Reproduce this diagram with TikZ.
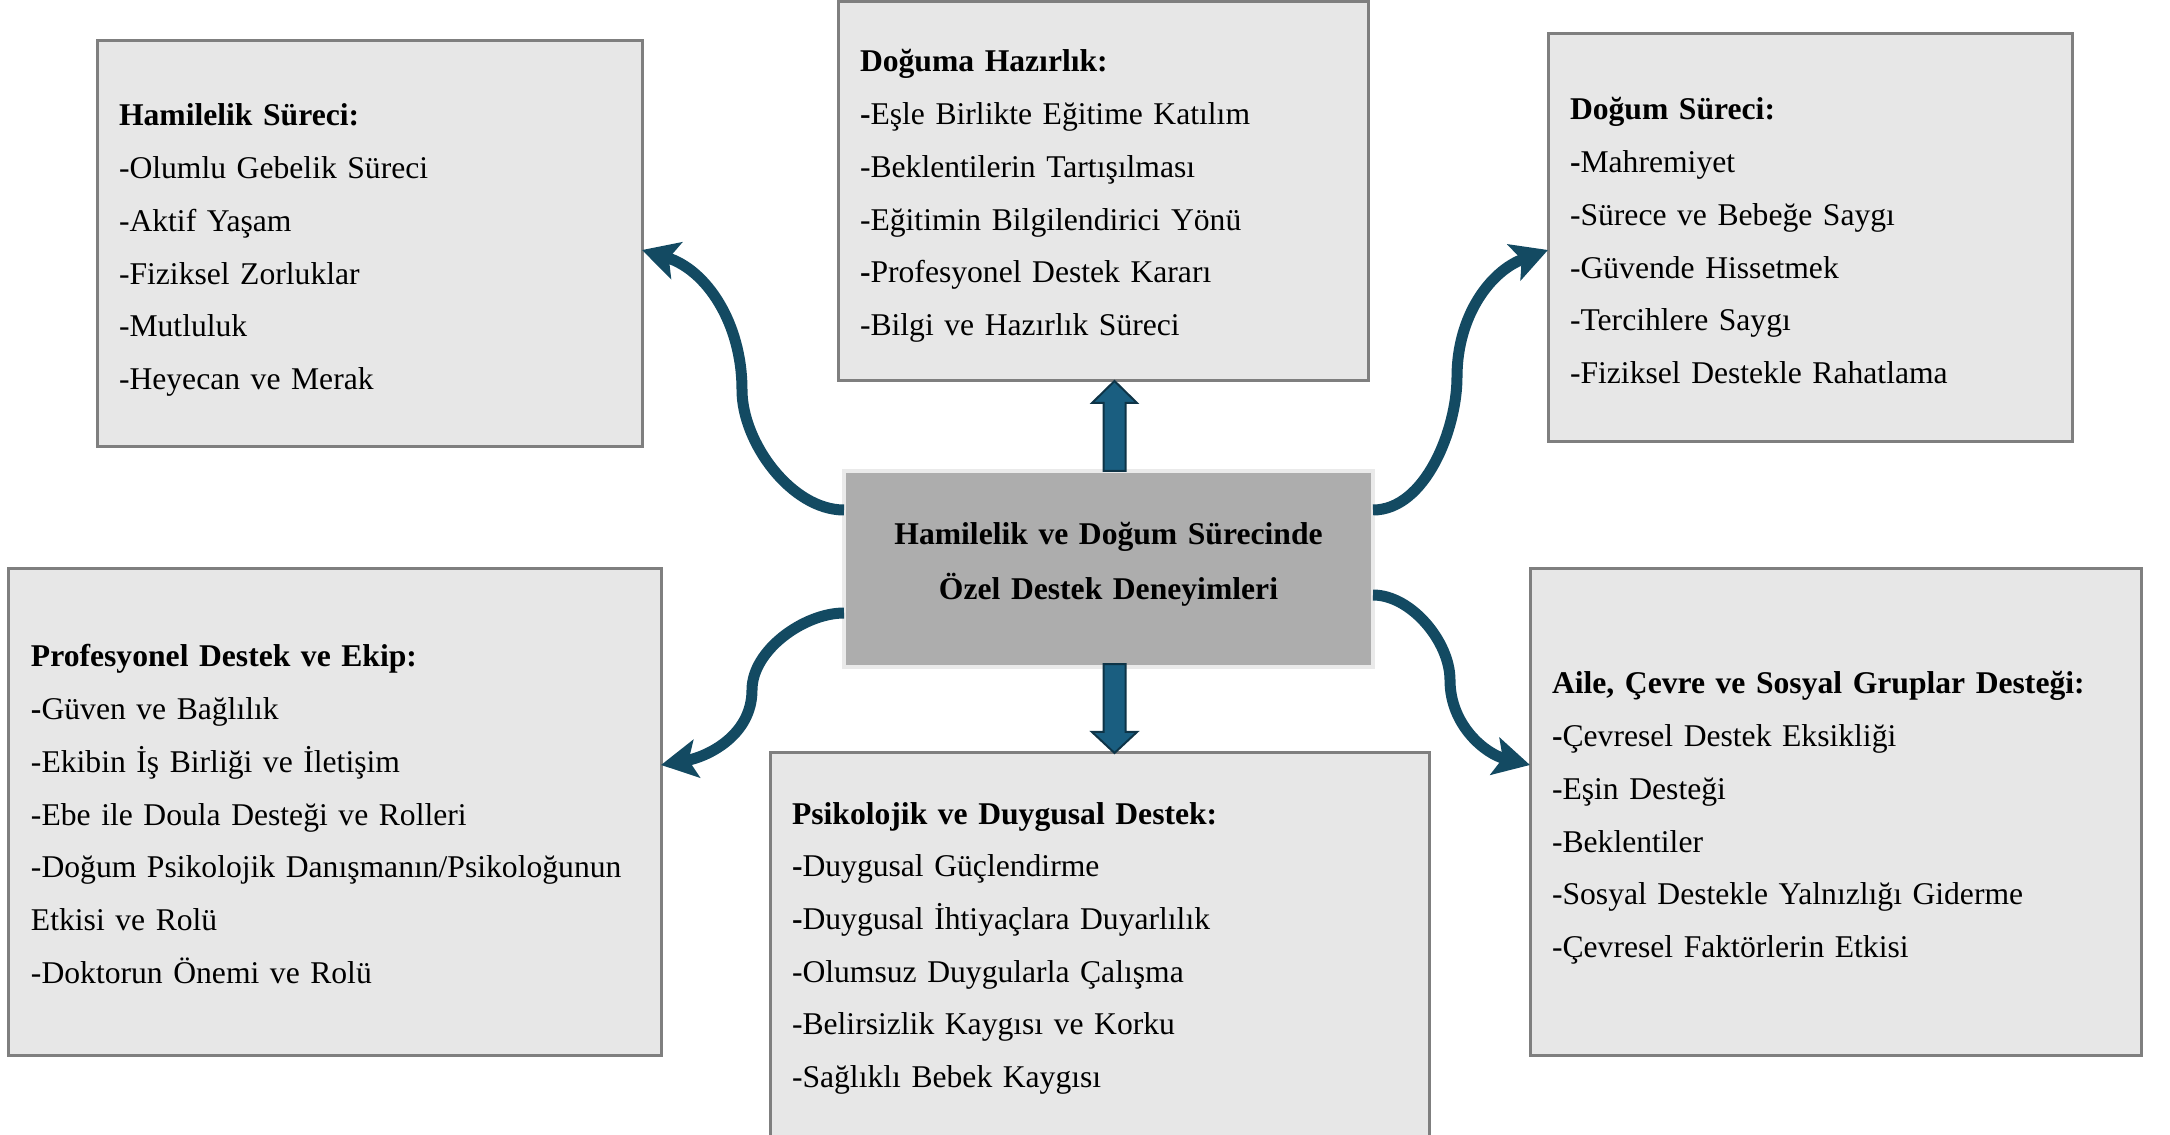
\documentclass[tikz,border=0pt]{standalone}
\usepackage{fontspec}
\setmainfont{Liberation Serif}
\usetikzlibrary{arrows.meta}

\definecolor{kutudolgu}{HTML}{E7E7E7}
\definecolor{kutucizgi}{HTML}{7F7F7F}
\definecolor{ortadolgu}{HTML}{ADADAD}
\definecolor{ortacizgi}{HTML}{EAEAEA}
\definecolor{okrenk}{HTML}{134A62}
\definecolor{blokdolgu}{HTML}{1A5E80}
\definecolor{blokcizgi}{HTML}{0E3447}

\tikzset{
	kutu/.style={draw=kutucizgi, fill=kutudolgu, line width=0.03cm, anchor=north west, align=left, inner xsep=0.22cm, inner ysep=0pt, outer sep=0pt, font=\fontsize{9}{15}\selectfont},
	ortakutu/.style={kutu, draw=ortacizgi, fill=ortadolgu, line width=0.04cm, align=center, font=\fontsize{9}{15.5}\selectfont\bfseries},
	egriok/.style={draw=okrenk, line width=0.11cm, -{Stealth[length=0.36cm,width=0.38cm,inset=0.08cm]}},
	blokok/.style={draw=blokcizgi, fill=blokdolgu, line width=0.02cm, line join=miter},
}

\begin{document}
\begin{tikzpicture}[]
	
	\useasboundingbox (0,0) rectangle (21.70,-11.35);
	
	% boxes
	\node[kutu, text width=5.01cm, text height=0.85cm, text depth=3.21cm] (hamilelik) at (0.97,-0.41) {\textbf{Hamilelik Süreci:}\\-Olumlu Gebelik Süreci\\-Aktif Yaşam\\-Fiziksel Zorluklar\\-Mutluluk\\-Heyecan ve Merak};
	\node[kutu, text width=4.86cm, text height=0.70cm, text depth=3.09cm] (hazirlik) at (8.38,-0.02) {\textbf{Doğuma Hazırlık:}\\\textbf{-}Eşle Birlikte Eğitime Katılım\\-Beklentilerin Tartışılması\\-Eğitimin Bilgilendirici Yönü\\\textbf{-}Profesyonel Destek Kararı\\-Bilgi ve Hazırlık Süreci};
	\node[kutu, text width=4.80cm, text height=0.86cm, text depth=3.22cm] (dogum) at (15.48,-0.34) {\textbf{Doğum Süreci:}\\\textbf{-}Mahremiyet\\-Sürece ve Bebeğe Saygı\\-Güvende Hissetmek\\-Tercihlere Saygı\\-Fiziksel Destekle Rahatlama};
	\node[kutu, text width=6.08cm, text height=0.98cm, text depth=3.88cm] (profesyonel) at (0.09,-5.69) {\textbf{Profesyonel Destek ve Ekip:}\\\textbf{-}Güven ve Bağlılık\\-Ekibin İş Birliği ve İletişim\\-Ebe ile Doula Desteği ve Rolleri\\-Doğum Psikolojik Danışmanın/Psikoloğunun\\Etkisi ve Rolü\\-Doktorun Önemi ve Rolü};
	\node[kutu, text width=6.15cm, text height=0.71cm, text depth=3.41cm] (psikolojik) at (7.70,-7.53) {\textbf{Psikolojik ve Duygusal Destek:}\\\textbf{-}Duygusal Güçlendirme\\\textbf{-}Duygusal İhtiyaçlara Duyarlılık\\-Olumsuz Duygularla Çalışma\\-Belirsizlik Kaygısı ve Korku\\-Sağlıklı Bebek Kaygısı};
	\node[kutu, text width=5.67cm, text height=1.25cm, text depth=3.61cm] (aile) at (15.30,-5.69) {\textbf{Aile, Çevre ve Sosyal Gruplar Desteği:}\\\textbf{-}Çevresel Destek Eksikliği\\-Eşin Desteği\\-Beklentiler\\-Sosyal Destekle Yalnızlığı Giderme\\-Çevresel Faktörlerin Etkisi};
	
	\node[ortakutu, text width=4.85cm, text height=0.74cm, text depth=1.22cm] (merkez) at (8.44,-4.71) {Hamilelik ve Doğum Sürecinde\\Özel Destek Deneyimleri};
	
	% curved arrows
	\coordinate (k1) at (7.42,-3.90);
	\coordinate (k2) at (7.52,-6.90);
	\coordinate (k3) at (14.57,-3.77);
	\coordinate (k4) at (14.50,-6.80);
	\draw[egriok] ([yshift=0.59cm]merkez.west) to[out=180,in=-90,looseness=0.85] (k1) to[out=90,in=-17] ([yshift=-0.06cm]hamilelik.east);
	\draw[egriok] ([yshift=-0.44cm]merkez.west) to[out=180,in=90,looseness=0.85] (k2) to[out=-90,in=10] ([yshift=0.47cm]profesyonel.east);
	\draw[egriok] ([yshift=0.59cm]merkez.east) to[out=0,in=-90,looseness=0.85] (k3) to[out=90,in=200] ([yshift=-0.12cm]dogum.west);
	\draw[egriok] ([yshift=-0.26cm]merkez.east) to[out=0,in=90,looseness=0.85] (k4) to[out=-90,in=166] ([yshift=0.47cm]aile.west);
	
	% block arrows
	\coordinate (yukari) at ([xshift=0.06cm]merkez.north);
	\coordinate (yukariuc) at (yukari |- hazirlik.south);
	\draw[blokok] ([xshift=-0.11cm]yukari) -- ([shift={(-0.11,-0.22)}]yukariuc) -- ([shift={(-0.225,-0.22)}]yukariuc) -- (yukariuc) -- ([shift={(0.225,-0.22)}]yukariuc) -- ([shift={(0.11,-0.22)}]yukariuc) -- ([xshift=0.11cm]yukari) -- cycle;
	
	\coordinate (asagi) at ([xshift=0.06cm,yshift=0.03cm]merkez.south);
	\coordinate (asagiuc) at (asagi |- psikolojik.north);
	\draw[blokok] ([xshift=-0.11cm]asagi) -- ([shift={(-0.11,0.21)}]asagiuc) -- ([shift={(-0.225,0.21)}]asagiuc) -- (asagiuc) -- ([shift={(0.225,0.21)}]asagiuc) -- ([shift={(0.11,0.21)}]asagiuc) -- ([xshift=0.11cm]asagi) -- cycle;
	
\end{tikzpicture}
\end{document}
